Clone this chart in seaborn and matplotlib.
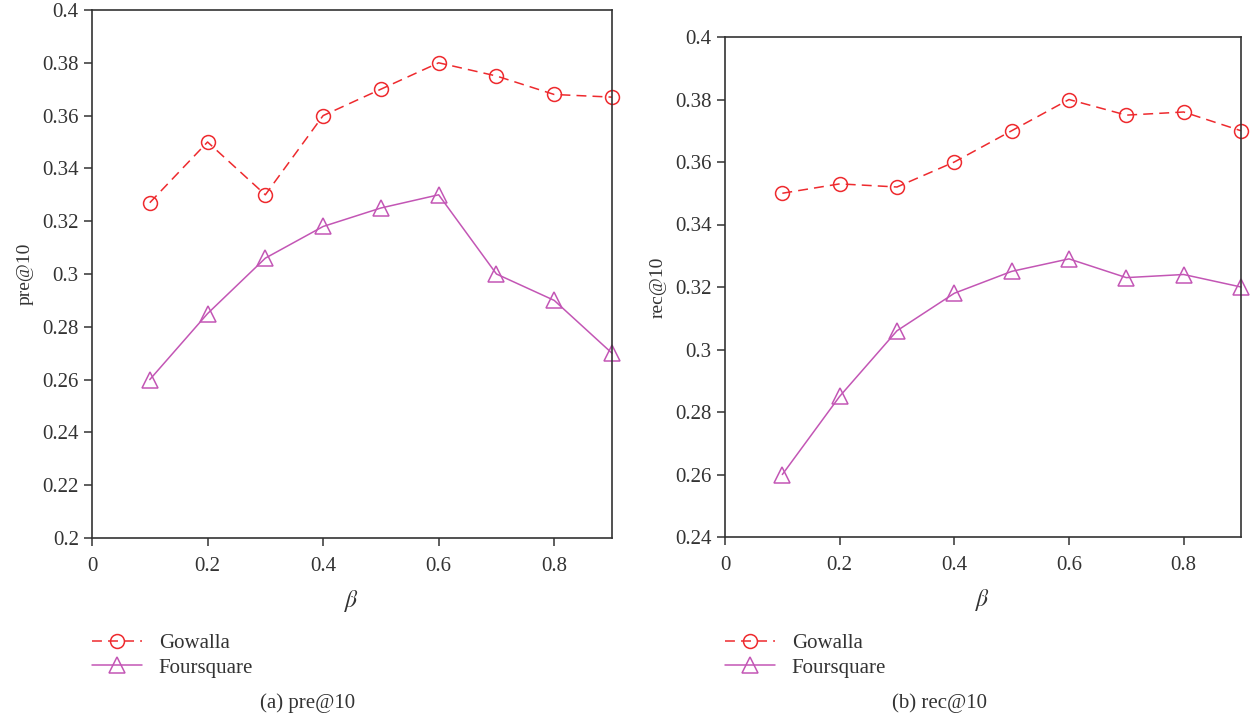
import matplotlib
matplotlib.use("Agg")
import matplotlib.pyplot as plt
import seaborn as sns
import pandas as pd

beta = [0.1, 0.2, 0.3, 0.4, 0.5, 0.6, 0.7, 0.8, 0.9]
pre_gowalla = [0.327, 0.350, 0.330, 0.360, 0.370, 0.380, 0.375, 0.368, 0.367]
pre_foursquare = [0.260, 0.285, 0.306, 0.318, 0.325, 0.330, 0.300, 0.290, 0.270]
rec_gowalla = [0.350, 0.353, 0.352, 0.360, 0.370, 0.380, 0.375, 0.376, 0.370]
rec_foursquare = [0.260, 0.285, 0.306, 0.318, 0.325, 0.329, 0.323, 0.324, 0.320]

pre_ticks = [0.2, 0.22, 0.24, 0.26, 0.28, 0.3, 0.32, 0.34, 0.36, 0.38, 0.4]
rec_ticks = [0.24, 0.26, 0.28, 0.3, 0.32, 0.34, 0.36, 0.38, 0.4]
x_ticks = [0, 0.2, 0.4, 0.6, 0.8]

sns.set_theme(style="white")
plt.rcParams['font.family'] = ['Liberation Serif', 'DejaVu Serif']
plt.rcParams['mathtext.fontset'] = 'stix'

RED = "#ee2a2e"
MAG = "#c356b5"
AX = "#333333"

fig = plt.figure(figsize=(12.54, 7.18), dpi=100)
ax1 = fig.add_axes([92/1254, 1-538/718, (612-92)/1254, (538-10)/718])
ax2 = fig.add_axes([725/1254, 1-537/718, (1241-725)/1254, (537-37)/718])

def draw(ax, g, f, ylim, yticks, ylabel, caption, cx):
    df = pd.DataFrame({"beta": beta, "Gowalla": g, "Foursquare": f})
    sns.lineplot(data=df, x="beta", y="Gowalla", ax=ax, color=RED, linestyle=(0, (6.5, 4)),
                 marker="o", markersize=10, markerfacecolor="none", markeredgecolor=RED,
                 markeredgewidth=1.1, linewidth=1.1, clip_on=False, label="Gowalla", legend=False)
    sns.lineplot(data=df, x="beta", y="Foursquare", ax=ax, color=MAG, linestyle="-",
                 marker="^", markersize=11, markerfacecolor="none", markeredgecolor=MAG,
                 markeredgewidth=1.1, linewidth=1.1, clip_on=False, label="Foursquare", legend=False)
    ax.set_xlim(0, 0.9)
    ax.set_ylim(*ylim)
    ax.set_yticks(yticks)
    ax.set_yticklabels([f"{t:g}" for t in yticks])
    ax.set_xticks(x_ticks)
    ax.set_xticklabels([f"{t:g}" for t in x_ticks])
    ax.set_xlabel(r"$\beta$", fontsize=17, color=AX, labelpad=8)
    ax.set_ylabel(ylabel, fontsize=14, color=AX, labelpad=6)
    for s in ax.spines.values():
        s.set_visible(True)
        s.set_color(AX)
        s.set_linewidth(1.2)
    ax.tick_params(axis="both", which="both", direction="out", length=6, width=1.1,
                   colors=AX, labelsize=15, bottom=True, left=True, top=False, right=False)
    ax.tick_params(axis="x", pad=8)
    handles, labels = ax.get_legend_handles_labels()
    fig.legend(handles, labels, loc="upper left",
               bbox_to_anchor=(ax.get_position().x0 - 0.0065, 1-625/718),
               frameon=False, fontsize=15, handlelength=2.4, handletextpad=0.8,
               labelspacing=0.25, borderaxespad=0, labelcolor=AX)
    fig.text(cx, 1-703/718, caption, ha="center", va="center", fontsize=15, color=AX)

draw(ax1, pre_gowalla, pre_foursquare, (0.2, 0.4), pre_ticks, "pre@10", "(a) pre@10", 308/1254)
draw(ax2, rec_gowalla, rec_foursquare, (0.24, 0.4), rec_ticks, "rec@10", "(b) rec@10", 940/1254)

fig.savefig("out.png", dpi=100)
